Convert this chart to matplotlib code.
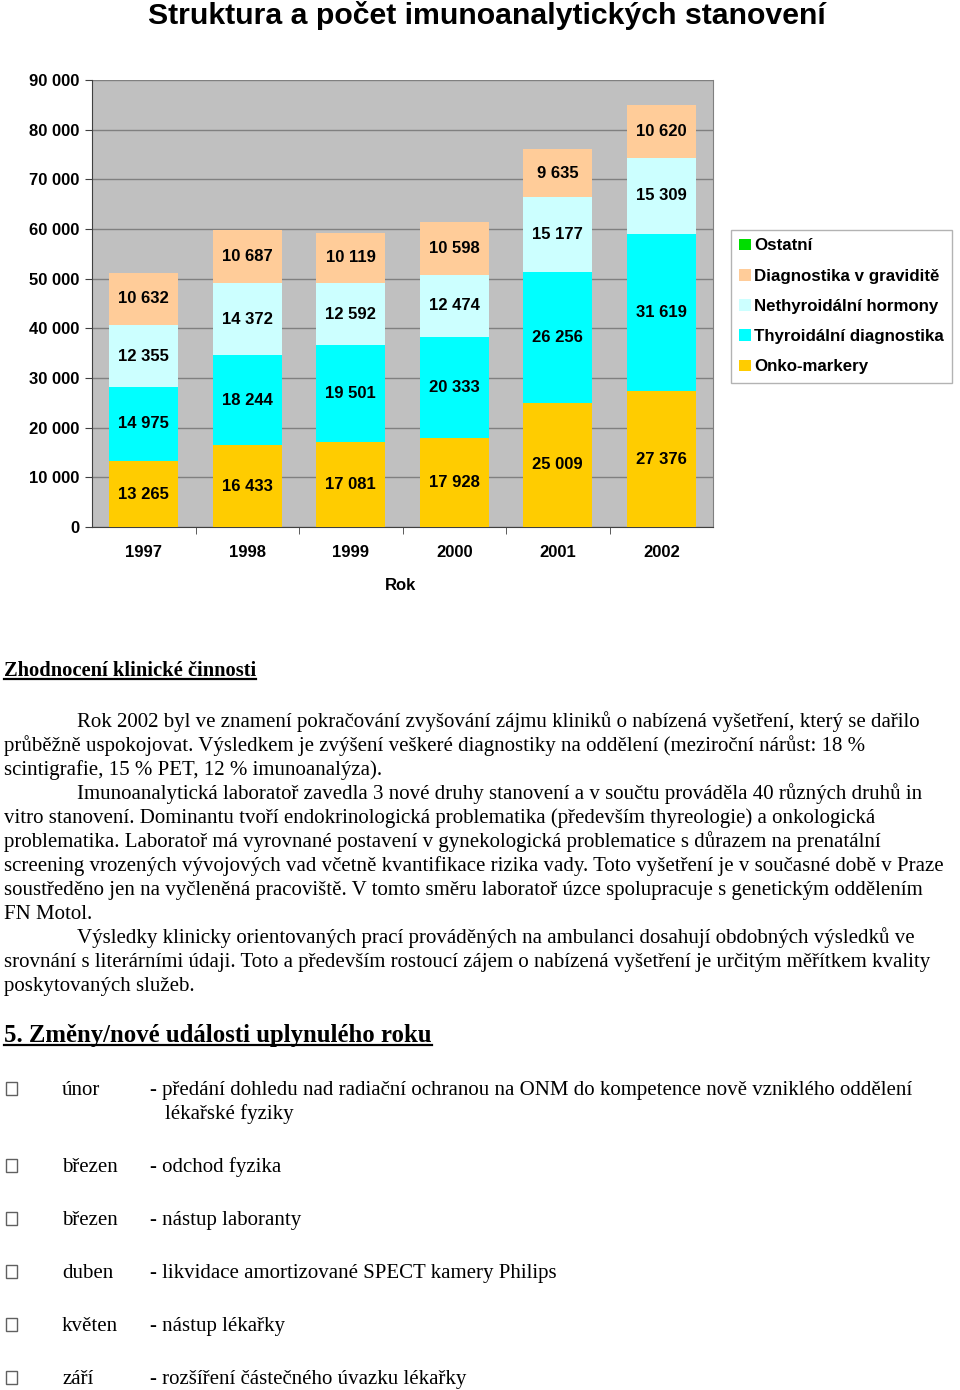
#!/usr/bin/env python3
"""Struktura a pocet imunoanalytickych stanoveni - stacked bars + report text."""

import matplotlib
matplotlib.use('Agg')
import matplotlib.pyplot as plt
import matplotlib.patches as mpatches
import numpy as np

W, H = 960, 1390

# ── Data ──────────────────────────────────────────────────────────────────────
years = ['1997', '1998', '1999', '2000', '2001', '2002']
onko = [13265, 16433, 17081, 17928, 25009, 27376]
thyroid = [14975, 18244, 19501, 20333, 26256, 31619]
nethyroid = [12355, 14372, 12592, 12474, 15177, 15309]
gravid = [10632, 10687, 10119, 10598, 9635, 10620]
ostatni = [0, 0, 0, 0, 0, 0]

series_names = ['Onko-markery', 'Thyroidální diagnostika', 'Nethyroidální hormony',
                'Diagnostika v graviditě', 'Ostatní']
series_vals = [onko, thyroid, nethyroid, gravid, ostatni]
series_cols = ['#FFCC00', '#00FFFF', '#CCFFFF', '#FFCC99', '#00DD00']

yticks = list(range(0, 90001, 10000))

SANS = 'Liberation Sans'
SERIF = 'Liberation Serif'


def fx(px):
    return px / W


def fy(py):
    return 1 - py / H


fig = plt.figure(figsize=(W / 100, H / 100), dpi=100)
fig.patch.set_facecolor('white')

# ── Title ─────────────────────────────────────────────────────────────────────
fig.text(fx(487), fy(16), 'Struktura a počet imunoanalytických stanovení',
         family=SANS, fontsize=21.8, fontweight='bold', ha='center', va='center')

# ── Chart ─────────────────────────────────────────────────────────────────────
ax = fig.add_axes([fx(92), fy(527), fx(713 - 92), (527 - 80) / H])
ax.set_facecolor('#C0C0C0')
x = np.arange(len(years))
bottom = np.zeros(len(years))
handles = []
for name, vals, col in zip(series_names, series_vals, series_cols):
    vals = np.array(vals, dtype=float)
    bars = ax.bar(x, vals, 0.67, bottom=bottom, color=col, label=name, zorder=3)
    handles.append(bars)
    for xi, v, b in zip(x, vals, bottom):
        if v > 0:
            ax.text(xi, b + v / 2, f'{int(v):,}'.replace(',', ' '),
                    family=SANS, fontsize=12, fontweight='bold',
                    ha='center', va='center', zorder=4)
    bottom += vals

ax.set_xlim(-0.5, len(years) - 0.5)
ax.set_ylim(0, 90000)
ax.set_yticks(yticks)
ax.set_yticklabels([f'{v:,}'.replace(',', ' ') for v in yticks],
                   family=SANS, fontsize=12, fontweight='bold')
ax.set_xticks(x)
ax.set_xticklabels(years, family=SANS, fontsize=12, fontweight='bold')
ax.set_xticks(np.arange(0.5, len(years) - 0.5, 1), minor=True)
ax.tick_params(axis='x', which='major', length=0, pad=13)
ax.tick_params(axis='x', which='minor', length=5, direction='out', color='#404040')
ax.tick_params(axis='y', length=5, direction='out', color='#404040', pad=4)
ax.yaxis.grid(True, color='#808080', lw=1, zorder=1)
ax.set_axisbelow(True)
ax.spines['top'].set_visible(False)
ax.spines['right'].set_color('#808080')
ax.spines['left'].set_color('#404040')
ax.spines['bottom'].set_color('#404040')

fig.text(fx(401), fy(585), 'Rok', family=SANS, fontsize=12, fontweight='bold',
         ha='center', va='center')

leg = fig.legend(handles[::-1], series_names[::-1], loc='upper left',
                 bbox_to_anchor=(fx(731), fy(230)), frameon=True, fancybox=False,
                 prop={'family': SANS, 'weight': 'bold', 'size': 12.2},
                 handlelength=0.7, handleheight=0.7, handletextpad=0.15,
                 labelspacing=0.9, borderpad=0.5, borderaxespad=0)
leg.get_frame().set_edgecolor('#A0A0A0')
leg.get_frame().set_linewidth(1)

# ── Report text ───────────────────────────────────────────────────────────────
BODY_FS = 15
renderer = fig.canvas.get_renderer()


def heading(px, py, s, fs):
    t = fig.text(fx(px), fy(py), s, family=SERIF, fontsize=fs, fontweight='bold',
                 ha='left', va='baseline')
    bb = t.get_window_extent(renderer=renderer)
    fig.add_artist(plt.Line2D([bb.x0 / W, bb.x1 / W], [fy(py + 3)] * 2,
                              color='black', lw=1.6, transform=fig.transFigure))


heading(4, 676, 'Zhodnocení klinické činnosti', 14.8)

body_lines = [
    (77, 'Rok 2002 byl ve znamení pokračování zvyšování zájmu kliniků o nabízená vyšetření, který se dařilo'),
    (4, 'průběžně uspokojovat. Výsledkem je zvýšení veškeré diagnostiky na oddělení (meziroční nárůst: 18 %'),
    (4, 'scintigrafie, 15 % PET, 12 % imunoanalýza).'),
    (77, 'Imunoanalytická laboratoř zavedla 3 nové druhy stanovení a v součtu prováděla 40 různých druhů in'),
    (4, 'vitro stanovení. Dominantu tvoří endokrinologická problematika (především thyreologie) a onkologická'),
    (4, 'problematika. Laboratoř má vyrovnané postavení v gynekologická problematice s důrazem na prenatální'),
    (4, 'screening vrozených vývojových vad včetně kvantifikace rizika vady. Toto vyšetření je v současné době v Praze'),
    (4, 'soustředěno jen na vyčleněná pracoviště. V tomto směru laboratoř úzce spolupracuje s genetickým oddělením'),
    (4, 'FN Motol.'),
    (77, 'Výsledky klinicky orientovaných prací prováděných na ambulanci dosahují obdobných výsledků ve'),
    (4, 'srovnání s literárními údaji. Toto a především rostoucí zájem o nabízená vyšetření je určitým měřítkem kvality'),
    (4, 'poskytovaných služeb.'),
]
for i, (px, s) in enumerate(body_lines):
    fig.text(fx(px), fy(727 + i * 24), s, family=SERIF, fontsize=BODY_FS,
             ha='left', va='baseline')

heading(4, 1042, '5. Změny/nové události uplynulého roku', 17.8)

months = ['únor', 'březen', 'březen', 'duben', 'květen', 'září']
events = ['- předání dohledu nad radiační ochranou na ONM do kompetence nově vzniklého oddělení',
          '- odchod fyzika', '- nástup laboranty',
          '- likvidace amortizované SPECT kamery Philips',
          '- nástup lékařky', '- rozšíření částečného úvazku lékařky']
event_rows = [1095, 1172, 1225, 1278, 1331, 1384]
for m, e, py in zip(months, events, event_rows):
    fig.add_artist(mpatches.Rectangle((fx(6), fy(py)), 11 / W, 13 / H, fill=False,
                                      ec='#606060', lw=1, transform=fig.transFigure))
    fig.text(fx(62), fy(py), m, family=SERIF, fontsize=BODY_FS, ha='left', va='baseline')
    fig.text(fx(150), fy(py), e, family=SERIF, fontsize=BODY_FS, ha='left', va='baseline')
fig.text(fx(165), fy(event_rows[0] + 24), 'lékařské fyziky', family=SERIF,
         fontsize=BODY_FS, ha='left', va='baseline')

fig.savefig('out.png', dpi=100, facecolor='white')
plt.close(fig)
